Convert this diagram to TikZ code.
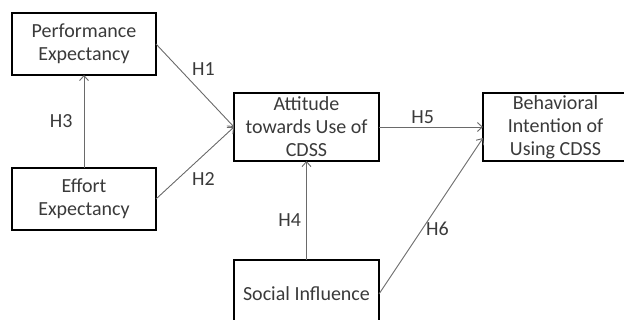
\documentclass[tikz,border=0pt]{standalone}
\usepackage{fontspec}
\setmainfont{Carlito}
\usepackage{xcolor}
\usepackage{tikz}
\usetikzlibrary{arrows.meta,positioning}
\definecolor{linegray}{HTML}{6A6A6A}
\definecolor{textgray}{HTML}{3A3A3A}
\tikzset{
  factorbox/.style={
    draw=black,
    line width=1.6pt,
    align=center,
    minimum width=144pt,
    minimum height=68pt,
    inner sep=0pt,
    outer sep=0pt,
    text=textgray,
    font=\fontsize{20}{23}\selectfont
  },
  patharrow/.style={-{Straight Barb[length=5pt,width=9pt]}, draw=linegray, line width=0.9pt},
  hyplabel/.style={text=textgray, font=\fontsize{20}{23}\selectfont, inner sep=3pt}
}
\begin{document}
\begin{tikzpicture}[x=1pt, y=-1pt]
  \useasboundingbox (0,0) rectangle (624,320);

  \node[factorbox, minimum height=62pt] (perf) at (84,44) {Performance\\Expectancy};
  \node[factorbox, minimum height=62pt, below=93pt of perf] (effort) {Effort\\Expectancy};

  \node[factorbox, minimum width=145pt] (attitude) at (306.5,127) {Attitude\\towards Use of\\CDSS};
  \node[factorbox, minimum width=145pt, right=104pt of attitude] (intention) {Behavioral\\Intention of\\Using CDSS};
  \node[factorbox, minimum width=145pt, below=99pt of attitude] (social) {Social Influence};

  \draw[patharrow] (perf.east) -- node[hyplabel, pos=0.42, above right] {H1} (attitude.west);
  \draw[patharrow] (effort.east) -- node[hyplabel, pos=0.42, below right] {H2} (attitude.west);
  \draw[patharrow] (effort.north) -- node[hyplabel, midway, left=8pt] {H3} (perf.south);
  \draw[patharrow] (social.north) -- node[hyplabel, pos=0.4, left=2pt] {H4} (attitude.south);
  \draw[patharrow] (attitude.east) -- node[hyplabel, pos=0.42, above] {H5} (intention.west);
  \draw[patharrow] (social.east) -- node[hyplabel, pos=0.42, right] {H6} ([yshift=-11pt]intention.west);
\end{tikzpicture}
\end{document}
